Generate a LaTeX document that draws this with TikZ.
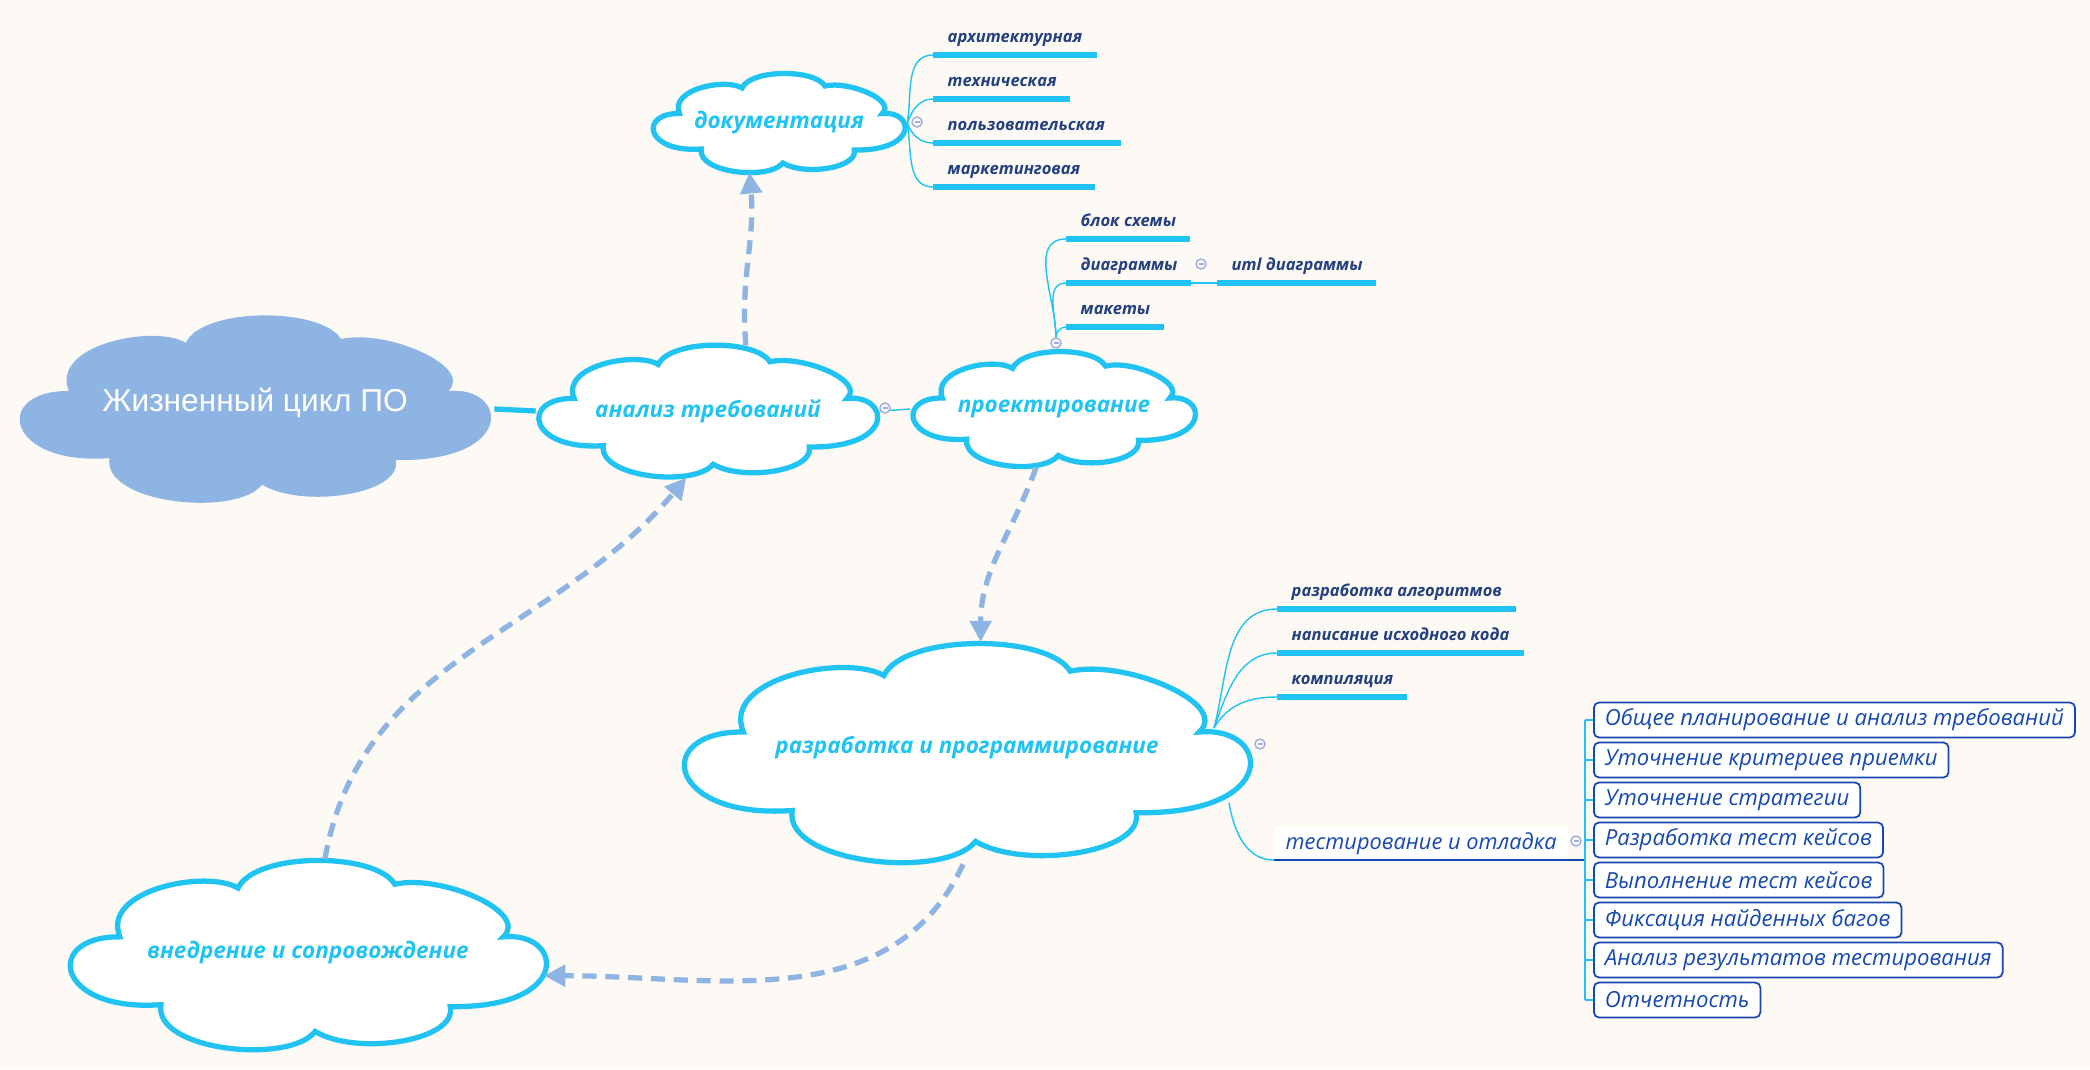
\documentclass[tikz,border=0pt]{standalone}
\usepackage{fontspec}
\setmainfont{Open Sans}
\newfontfamily\rootfont{Liberation Sans}
\usetikzlibrary{shapes.geometric,arrows.meta,backgrounds}

\definecolor{skyline}{RGB}{33,195,242}
\definecolor{linkblue}{RGB}{142,180,227}
\definecolor{leafnavy}{RGB}{36,64,128}
\definecolor{boxblue}{RGB}{22,72,176}
\definecolor{foldgray}{RGB}{160,172,220}
\definecolor{paper}{RGB}{253,249,245}

% cloud outline in unit coordinates
\newcommand{\cloudpath}{(-0.61,-0.52)
  .. controls (-1.05,-0.60) and (-1.10,0.20) .. (-0.78,0.19)
  .. controls (-0.86,0.68) and (-0.42,0.90) .. (-0.29,0.70)
  .. controls (-0.22,1.08) and (0.28,1.08) .. (0.36,0.74)
  .. controls (0.55,0.85) and (0.92,0.45) .. (0.81,0.19)
  .. controls (1.06,0.25) and (1.10,-0.56) .. (0.59,-0.54)
  .. controls (0.62,-0.90) and (0.20,-1.06) .. (0.03,-0.80)
  .. controls (-0.08,-1.15) and (-0.64,-1.00) .. (-0.61,-0.52) -- cycle}

\begin{document}
\begin{tikzpicture}[x=0.01cm,y=-0.01cm,
  stageline/.style={draw=skyline, line width=1.5pt, fill=white},
  stage/.style={ellipse, inner sep=0pt, text=skyline,
    font=\fontsize{6.4}{7}\selectfont\bfseries\itshape},
  leaf/.style={anchor=south west, inner xsep=0.14cm, inner ysep=0.06cm, text depth=0.06cm,
    text=leafnavy, font=\fontsize{4.7}{6}\selectfont\bfseries\itshape},
  bar/.style={skyline, line width=1.7pt},
  twig/.style={skyline, line width=0.4pt},
  cycle/.style={linkblue, line width=1.5pt, dash pattern=on 4pt off 2.5pt,
    -{Triangle[length=6pt,width=6pt]}},
  fold/.style={circle, draw=foldgray, fill=white, line width=0.4pt, minimum size=0.1cm, inner sep=0pt,
    path picture={\draw[foldgray, line width=0.4pt] ([xshift=0.025cm]path picture bounding box.west)
      -- ([xshift=-0.025cm]path picture bounding box.east);}},
  testbox/.style={anchor=west, draw=boxblue, fill=white, rounded corners=1.5pt, line width=0.5pt,
    minimum height=0.35cm, inner xsep=0.11cm, inner ysep=0pt, text=boxblue,
    font=\fontsize{6.3}{7}\selectfont\itshape}]

% paper
\begin{pgfonlayer}{background}
\fill[paper] (0,0) rectangle (2090,1069);
\end{pgfonlayer}
\useasboundingbox (0,0) rectangle (2090,1069);

% cloud outlines
\fill[linkblue, shift={(255,409)}, x=2.385cm, y=0.945cm] \cloudpath;
\draw[stageline, shift={(708,411)}, x=1.715cm, y=0.665cm] \cloudpath;
\draw[stageline, shift={(1054,409)}, x=1.43cm, y=0.58cm] \cloudpath;
\draw[stageline, shift={(779,123)}, x=1.275cm, y=0.50cm] \cloudpath;
\draw[stageline, shift={(967,753)}, x=2.865cm, y=1.105cm] \cloudpath;
\draw[stageline, shift={(308,955)}, x=2.41cm, y=0.955cm] \cloudpath;

% stages of the cycle
\node[ellipse, inner sep=0pt, minimum width=4.77cm, minimum height=1.89cm, text=white, text depth=0.18cm,
  font=\rootfont\fontsize{9}{10}\selectfont] (root) at (255,409) {Жизненный цикл ПО};
\node[stage, minimum width=3.43cm, minimum height=1.33cm] (analysis) at (708,411) {анализ требований};
\node[stage, minimum width=2.86cm, minimum height=1.16cm] (design) at (1054,409) {проектирование};
\node[stage, minimum width=2.55cm, minimum height=1.00cm] (docs) at (779,123) {документация};
\node[stage, minimum width=5.73cm, minimum height=2.21cm, text depth=0.16cm] (devel) at (967,753) {разработка и программирование};
\node[stage, minimum width=4.82cm, minimum height=1.91cm, text depth=0.1cm] (deploy) at (308,955) {внедрение и сопровождение};

% root link
\begin{pgfonlayer}{background}
\draw[skyline, line width=1.5pt] (root.east) -- (analysis.west);
\draw[twig] (analysis.east) -- (design.west);
\end{pgfonlayer}
\node[fold] (analysisfold) at (885,408) {};

% cycle arrows
\draw[cycle] (analysis.60) to[out=95,in=-85] (docs.239);
\draw[cycle] (design.253) to[out=-110,in=90] (devel.83);
\draw[cycle] (devel.268) to[out=-115,in=0] (deploy.355);
\draw[cycle] (deploy.80) to[out=80,in=-130] (analysis.252);

% documentation kinds
\node[leaf] (arch) at (933,55) {архитектурная};
\node[leaf] (tech) at (933,99) {техническая};
\node[leaf] (user) at (933,143) {пользовательская};
\node[leaf] (market) at (933,187) {маркетинговая};
\draw[bar] (arch.south west) -- ++(164,0);
\draw[bar] (tech.south west) -- ++(137,0);
\draw[bar] (user.south west) -- ++(188,0);
\draw[bar] (market.south west) -- ++(162,0);
\draw[twig] (docs.east) to[out=80,in=180] (arch.south west);
\draw[twig] (docs.east) to[out=70,in=180] (tech.south west);
\draw[twig] (docs.east) to[out=-70,in=180] (user.south west);
\draw[twig] (docs.east) to[out=-80,in=180] (market.south west);
\node[fold] (docsfold) at (917,122) {};

% design artefacts
\node[leaf] (blocks) at (1066,239) {блок схемы};
\node[leaf] (diagrams) at (1066,283) {диаграммы};
\node[leaf] (mockups) at (1066,327) {макеты};
\node[leaf] (uml) at (1217,283) {uml диаграммы};
\draw[bar] (blocks.south west) -- ++(124,0);
\draw[bar] (diagrams.south west) -- ++(125,0);
\draw[bar] (mockups.south west) -- ++(98,0);
\draw[bar] (uml.south west) -- ++(159,0);
\node[fold] (designfold) at (1056,343) {};
\draw[twig] (designfold.north) to[out=90,in=180] (blocks.south west);
\draw[twig] (designfold.north) to[out=90,in=180] (diagrams.south west);
\draw[twig] (designfold.north) to[out=90,in=180] (mockups.south west);
\draw[twig] ([xshift=1.25cm]diagrams.south west) -- (uml.south west);
\node[fold] (diagramsfold) at (1201,264) {};

% development steps
\node[leaf] (algo) at (1277,609) {разработка алгоритмов};
\node[leaf] (code) at (1277,653) {написание исходного кода};
\node[leaf] (compile) at (1277,697) {компиляция};
\draw[bar] (algo.south west) -- ++(239,0);
\draw[bar] (code.south west) -- ++(247,0);
\draw[bar] (compile.south west) -- ++(130,0);
\coordinate (develout) at (1214,728);
\coordinate (devellow) at (1229,803);
\draw[twig] (develout) to[out=75,in=180] (algo.south west);
\draw[twig] (develout) to[out=70,in=180] (code.south west);
\draw[twig] (develout) to[out=60,in=180] (compile.south west);
\node[fold] (develfold) at (1260,744) {};

% testing
\node[anchor=south west, fill=white, inner xsep=0.11cm, inner ysep=0.05cm, text depth=0.05cm,
  text=boxblue, font=\fontsize{6.2}{8}\selectfont\itshape] (testing) at (1274,860) {тестирование и отладка};
\coordinate (fork) at (1585,860);
\draw[twig] (devellow) to[out=-80,in=180] (testing.south west);
\draw[boxblue, line width=0.8pt] (testing.south west) -- (fork);
\node[fold] (testingfold) at (1576,841) {};

\node[testbox] (t1) at (1593,720) {Общее планирование и анализ требований};
\node[testbox] (t2) at (1593,760) {Уточнение критериев приемки};
\node[testbox] (t3) at (1593,800) {Уточнение стратегии};
\node[testbox] (t4) at (1593,840) {Разработка тест кейсов};
\node[testbox] (t5) at (1593,880) {Выполнение тест кейсов};
\node[testbox] (t6) at (1593,920) {Фиксация найденных багов};
\node[testbox] (t7) at (1593,960) {Анализ результатов тестирования};
\node[testbox] (t8) at (1593,1000) {Отчетность};

\draw[twig] (fork |- t1.west) -- (fork |- t8.west);
\draw[twig] (fork |- t1.west) -- (t1.west);
\draw[twig] (fork |- t2.west) -- (t2.west);
\draw[twig] (fork |- t3.west) -- (t3.west);
\draw[twig] (fork |- t4.west) -- (t4.west);
\draw[twig] (fork |- t5.west) -- (t5.west);
\draw[twig] (fork |- t6.west) -- (t6.west);
\draw[twig] (fork |- t7.west) -- (t7.west);
\draw[twig] (fork |- t8.west) -- (t8.west);

\end{tikzpicture}
\end{document}
